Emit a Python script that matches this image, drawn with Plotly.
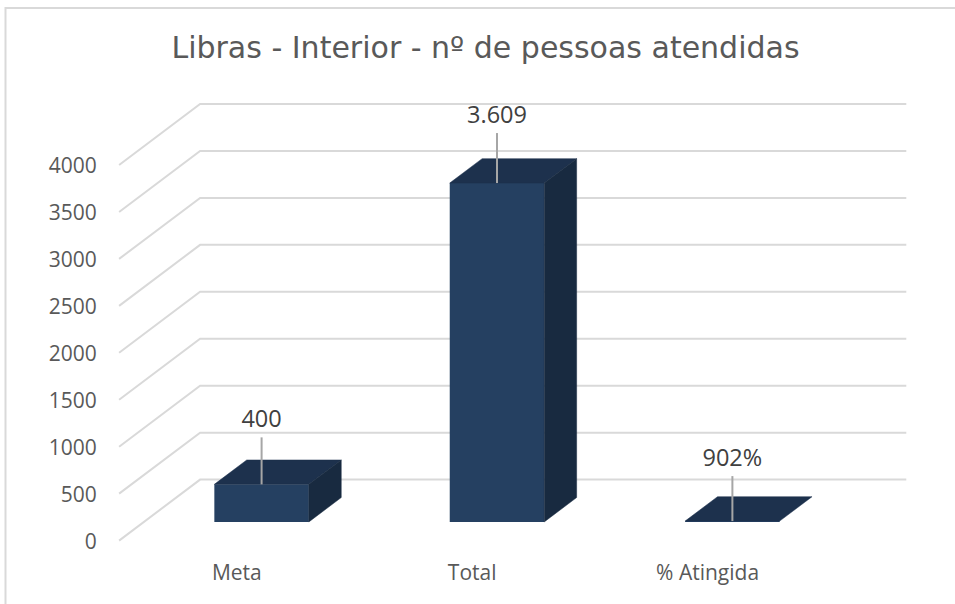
import plotly.graph_objects as go

# ---- data ----
categories = ["Meta", "Total", "% Atingida"]
values = [400, 3609, 9.02]
value_labels = ["400", "3.609", "902%"]
y_ticks = [0, 500, 1000, 1500, 2000, 2500, 3000, 3500, 4000]
title_text = "Libras - Interior - nº de pessoas atendidas"

# ---- oblique-projection styling constants ----
W, H = 955, 604
PX_PER_CAT = 235.4
PX_PER_VAL = 0.0939
ORIGIN_X, ORIGIN_Y = 236.8, 540.6      # pixel of category 0 / value 0 on the front floor edge
DX = 81 / PX_PER_CAT                   # shift of full depth, in category units
DY = 61 / PX_PER_VAL                   # shift of full depth, in value units
BAR_D0, BAR_D1 = 0.306, 0.706          # depth of bar front / back
HALF = 47.25 / PX_PER_CAT
LEADER_PX = [47, 50, 45]               # leader line length per label
LABEL_GAP = 4 / PX_PER_VAL
GRID = "#d9d9d9"
FRONT, TOP, SIDE = "#254061", "#1d314d", "#182a40"

L, R, T, B = 115, 911, 90, 545         # plot-area pixel box
x_range = [(L - ORIGIN_X) / PX_PER_CAT, (R - ORIGIN_X) / PX_PER_CAT]
y_range = [(ORIGIN_Y - B) / PX_PER_VAL, (ORIGIN_Y - T) / PX_PER_VAL]
CAT_LO, CAT_HI = -0.5, len(categories) - 0.5


def proj(cat, val, depth):
    return cat + depth * DX, val + depth * DY


def face(points, color):
    xs, ys = zip(*(proj(*p) for p in points))
    return go.Scatter(x=list(xs) + [xs[0]], y=list(ys) + [ys[0]], mode="lines", fill="toself",
                      fillcolor=color, line=dict(color=color, width=0.5),
                      hoverinfo="skip", showlegend=False, cliponaxis=False)


fig = go.Figure()

# front faces
positions = list(range(len(categories)))
fig.add_trace(go.Bar(
    x=[proj(c, 0, BAR_D0)[0] for c in positions],
    y=values,
    base=[proj(c, 0, BAR_D0)[1] for c in positions],
    width=2 * HALF,
    marker=dict(color=FRONT, line=dict(width=0)),
    showlegend=False,
))

# top and side faces
for c, v in zip(positions, values):
    fig.add_trace(face([(c - HALF, v, BAR_D0), (c + HALF, v, BAR_D0),
                        (c + HALF, v, BAR_D1), (c - HALF, v, BAR_D1)], TOP))
    if v > 50:
        fig.add_trace(face([(c + HALF, 0, BAR_D0), (c + HALF, v, BAR_D0),
                            (c + HALF, v, BAR_D1), (c + HALF, 0, BAR_D1)], SIDE))

# leader lines and value labels
for c, v, label, leader_px in zip(positions, values, value_labels, LEADER_PX):
    x0, y0 = proj(c, v, BAR_D0)
    leader = leader_px / PX_PER_VAL
    fig.add_trace(go.Scatter(x=[x0, x0], y=[y0, y0 + leader], mode="lines",
                             line=dict(color="#a6a6a6", width=2),
                             hoverinfo="skip", showlegend=False, cliponaxis=False))
    fig.add_trace(go.Scatter(x=[x0], y=[y0 + leader + LABEL_GAP], mode="text", text=[label],
                             textposition="top center",
                             textfont=dict(family="Open Sans", size=23.5, color="#404040"),
                             hoverinfo="skip", showlegend=False, cliponaxis=False))

# wall gridlines under the bars
shapes = []
for v in y_ticks:
    p0 = proj(CAT_LO, v, 0)
    p1 = proj(CAT_LO, v, 1)
    p2 = proj(CAT_HI, v, 1)
    shapes.append(dict(type="path", path=f"M {p0[0]},{p0[1]} L {p1[0]},{p1[1]} L {p2[0]},{p2[1]}",
                       xref="x", yref="y", layer="below", line=dict(color=GRID, width=2)))

# chart frame (left and top edges)
pw, ph = R - L, B - T
frame_x = (5.5 - L) / pw
frame_top = 1 + (T - 8) / ph
frame_bottom = (B - H) / ph
shapes.append(dict(type="path",
                   path=f"M {frame_x},{frame_bottom} L {frame_x},{frame_top} L {(W - L) / pw},{frame_top}",
                   xref="paper", yref="paper", layer="below", line=dict(color=GRID, width=2)))

fig.update_layout(
    width=W, height=H, autosize=False,
    margin=dict(l=L, r=W - R, t=T, b=H - B, pad=0),
    paper_bgcolor="white", plot_bgcolor="white",
    title=dict(text=title_text, x=485.5 / W, xanchor="center", y=1 - 47 / H, yanchor="middle",
               font=dict(family="DejaVu Sans", size=30, color="#595959")),
    shapes=shapes,
    showlegend=False,
    xaxis=dict(range=x_range, tickmode="array", tickvals=positions, ticktext=categories,
               showgrid=False, zeroline=False, showline=False,
               ticks="outside", ticklen=9, tickcolor="rgba(0,0,0,0)",
               tickfont=dict(family="Open Sans", size=21, color="#595959")),
    yaxis=dict(range=y_range, tickmode="array", tickvals=y_ticks,
               showgrid=False, zeroline=False, showline=False,
               ticks="outside", ticklen=13, tickcolor="rgba(0,0,0,0)", ticklabelshift=1,
               tickfont=dict(family="Open Sans", size=21, color="#595959")),
)

fig.write_html("out.html", config={"displayModeBar": False},
               post_script="document.body.style.margin='0';document.body.style.overflow='hidden';")
